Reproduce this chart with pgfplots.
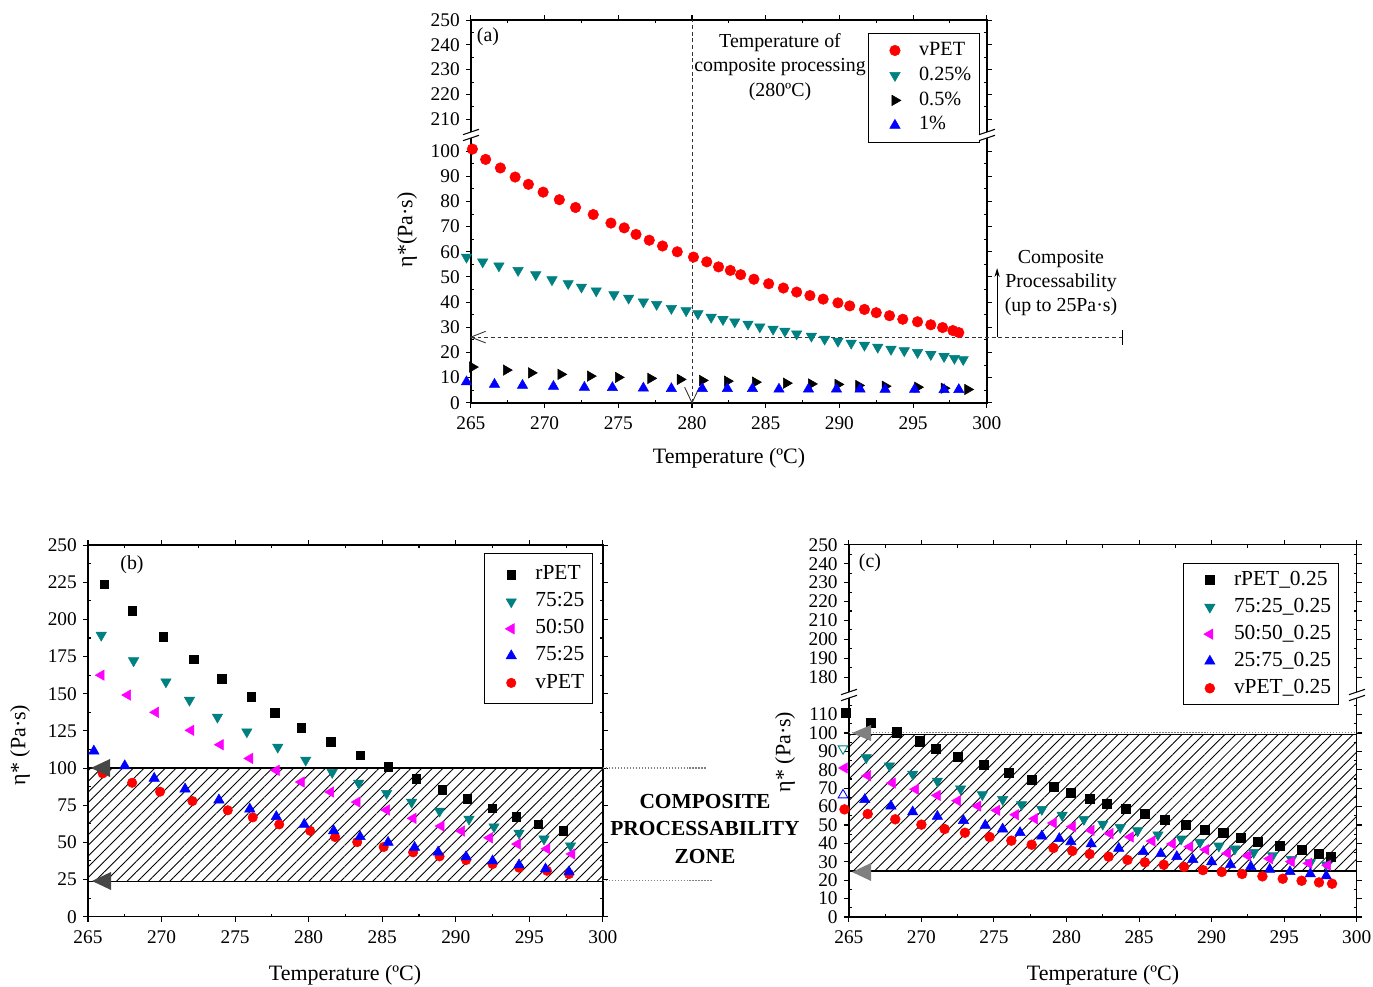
\documentclass[border=0pt]{standalone}
\usepackage{fontspec}
\setmainfont{Liberation Serif}
\usepackage{pgfplots}
\pgfplotsset{compat=1.18}
\usetikzlibrary{patterns.meta,arrows.meta}
\definecolor{cTeal}{RGB}{0,128,128}
\definecolor{cMag}{RGB}{255,0,255}
\definecolor{cBlue}{RGB}{0,0,255}
\definecolor{cRed}{RGB}{255,0,0}
\newcommand\fs{\fontsize{11}{13}\selectfont}
\newcommand\fg{\fontsize{12.2}{14}\selectfont}
\newcommand\fa{\fontsize{11.3}{13.9}\selectfont}
\newcommand\fl{\fontsize{12.5}{15}\selectfont}

\tikzset{
  hatch/.style={pattern={Lines[angle=45,distance=4.3pt,line width=0.5pt]}},
  dsh/.style={black!80, line width=0.55pt, dash pattern=on 2.2pt off 1.6pt},
}
\pgfplotsset{
  panel/.style={
    scale only axis, anchor=south west, clip=false,
    xmin=265, xmax=300, xtick={265,270,...,300},
    minor xtick={267.5,272.5,277.5,282.5,287.5,292.5,297.5},
    tick align=outside, major tick length=0.1cm, minor tick length=-0.06cm,
    axis line style={line width=0.8pt},
    major tick style={black, line width=0.6pt},
    minor tick style={black, line width=0.6pt},
    tick label style={font=\fs}, /pgf/number format/assume math mode=true,
    xticklabel style={yshift=-1.6pt},
    legend cell align=left,
    legend style={font=\fs, draw=black, line width=0.6pt, anchor=north west,
      inner xsep=3pt, inner ysep=2.5pt,
      nodes={inner sep=1.5pt, text height=7.5pt, text depth=2.2pt}},
  },
  biglegend/.style={legend style={font=\fg, nodes={inner sep=1.5pt, text height=8.3pt, text depth=2.5pt}}},
  limg/.style={legend image code/.code={%
    \path (0cm,-0.1cm) (0.84cm,0.1cm);
    \draw[mark repeat=2,mark phase=2,##1] plot coordinates {(0cm,0cm) (0.42cm,0cm) (0.84cm,0cm)};}},
  sRed/.style={only marks, mark=*, mark size=#1, color=cRed, mark options={line width=0.3pt}, limg},
  sTeal/.style={only marks, mark=triangle*, mark size=#1, color=cTeal, mark options={rotate=180, line width=0.3pt}, limg},
  sMag/.style={only marks, mark=triangle*, mark size=#1, color=cMag, mark options={rotate=90, line width=0.3pt}, limg},
  sBlue/.style={only marks, mark=triangle*, mark size=#1, color=cBlue, mark options={line width=0.3pt}, limg},
  sBlkR/.style={only marks, mark=triangle*, mark size=#1, color=black, mark options={rotate=-90, line width=0.3pt}, limg},
  sBlkSq/.style={only marks, mark=square*, mark size=#1, color=black, mark options={line width=0.3pt}, limg},
}

\newcommand\brk[2]{%
  \fill[white] (#1-8,#2+0.3) -- (#1+8,#2+5.7) -- (#1+8,#2-0.3) -- (#1-8,#2-5.7) -- cycle;
  \draw[line width=0.6pt] (#1-8,#2+0.3) -- (#1+8,#2+5.7);
  \draw[line width=0.6pt] (#1-8,#2-5.7) -- (#1+8,#2-0.3);}

\begin{document}
\begin{tikzpicture}[x=0.02cm,y=0.02cm]
\useasboundingbox (0,0) rectangle (1373,987);

% ---------------- (a)
\begin{axis}[panel, at={(9.42cm,11.686cm)}, width=10.32cm, height=7.654cm,
  ymin=0, ymax=152.02,
  ytick={0,10,20,30,40,50,60,70,80,90,100,112.7,122.53,132.36,142.19,152.02},
  yticklabels={0,10,20,30,40,50,60,70,80,90,100,210,220,230,240,250},
  minor ytick={5,15,25,35,45,55,65,75,85,95,117.6,127.4,137.3,147.1},
  legend style={at={(0.769,0.966)}, row sep=1.5pt, inner ysep=3.2pt,
    font=\fontsize{11.5}{13}\selectfont}]
\draw[dsh] (axis cs:280,0) -- (axis cs:280,152.02);
\draw[dsh] (axis cs:265,26.1) -- (axis cs:309.2,26.1);
\draw[black!80, line width=0.5pt] (axis cs:266.0,28.4) -- (axis cs:265,26.1) -- (axis cs:266.0,23.8);
\draw[black!80, line width=0.5pt] (axis cs:279.5,6.2) -- (axis cs:280,0) -- (axis cs:280.5,6.2);
\draw[black, line width=0.5pt] (axis cs:309.2,23.1) -- (axis cs:309.2,29.1);
\draw[black, line width=0.5pt, -{Stealth[length=5pt,width=3pt]}] (axis cs:300.7,26.1) -- (axis cs:300.7,53.5);

\addplot[sRed=3pt] coordinates {(265.1,100.8)(266.0,96.7)(267.0,93.3)(268.0,89.7)(268.9,86.8)(269.9,83.7)(271.0,80.7)(272.1,77.6)(273.3,74.8)(274.5,71.4)(275.4,69.5)(276.2,66.9)(277.1,64.6)(278.0,62.3)(279.0,60.0)(280.1,57.9)(281.0,56.0)(281.8,54.0)(282.6,52.6)(283.3,50.9)(284.2,49.1)(285.2,47.3)(286.2,45.6)(287.1,44.0)(288.0,42.6)(288.9,41.2)(289.9,39.7)(290.7,38.5)(291.7,37.1)(292.5,35.8)(293.4,34.6)(294.3,33.2)(295.3,32.2)(296.2,31.0)(297.0,29.9)(297.7,28.7)(298.1,27.9)};
\addlegendentry{vPET}
\addplot[sTeal=3.4pt] coordinates {(264.7,57.9)(265.8,56.0)(266.9,54.4)(268.2,52.6)(269.4,50.9)(270.5,48.9)(271.6,47.4)(272.5,46.0)(273.5,44.5)(274.7,43.0)(275.7,41.6)(276.7,40.1)(277.6,39.1)(278.6,37.5)(279.6,36.6)(280.4,35.4)(281.3,34.0)(282.1,33.1)(282.9,32.2)(283.8,31.3)(284.6,30.2)(285.5,29.3)(286.3,28.5)(287.1,27.4)(288.1,26.5)(289.0,25.3)(289.9,24.5)(290.8,23.7)(291.7,22.9)(292.6,22.1)(293.5,21.3)(294.4,20.7)(295.3,20.0)(296.2,19.2)(297.1,18.4)(297.8,17.7)(298.4,17.2)};
\addlegendentry{0.25\%}
\addplot[sBlkR=3.4pt] coordinates {(265.1,14.2)(267.4,13.0)(269.1,11.9)(271.1,11.3)(273.1,10.6)(275.0,10.1)(277.2,9.7)(279.2,9.3)(280.7,8.9)(282.4,8.6)(284.3,8.2)(286.4,7.8)(288.1,7.5)(289.9,7.3)(291.3,6.9)(293.1,6.6)(295.3,6.2)(297.1,5.8)(298.7,5.3)};
\addlegendentry{0.5\%}
\addplot[sBlue=3.4pt] coordinates {(264.7,8.3)(266.6,7.3)(268.5,6.9)(270.6,6.5)(272.7,6.1)(274.6,6.0)(276.7,5.8)(278.6,5.6)(280.7,5.6)(282.4,5.6)(284.1,5.6)(285.9,5.4)(287.9,5.4)(289.8,5.4)(291.4,5.4)(293.1,5.3)(295.1,5.3)(297.1,5.2)(298.1,5.2)};
\addlegendentry{1\%}
\end{axis}

% ---------------- (b)
\begin{axis}[panel, biglegend, at={(1.76cm,1.406cm)}, width=10.30cm, height=7.434cm,
  ymin=0, ymax=250, ytick={0,25,...,250},
  minor ytick={12.5,37.5,62.5,87.5,112.5,137.5,162.5,187.5,212.5,237.5},
  legend style={at={(0.769,0.978)}, row sep=1.6pt, inner ysep=5pt}]
\fill[hatch] (axis cs:265,23.8) rectangle (axis cs:300,100);
\draw[black, line width=0.7pt] (axis cs:265,100) -- (axis cs:300,100);
\draw[black, line width=0.7pt] (axis cs:265,23.8) -- (axis cs:300,23.8);
\draw[gray, densely dotted, line width=0.7pt] (axis cs:300,100) -- (axis cs:307.1,100);
\draw[gray, densely dotted, line width=0.7pt] (axis cs:300,24.3) -- (axis cs:307.4,24.3);

\addplot[sBlkSq=2.4pt] coordinates {(266.1,223.5)(268.0,205.8)(270.1,188.3)(272.2,173.3)(274.1,160.1)(276.1,148.0)(277.7,137.2)(279.5,127.1)(281.5,117.7)(283.5,108.5)(285.4,100.9)(287.3,92.8)(289.1,85.4)(290.8,79.2)(292.5,73.1)(294.1,67.2)(295.6,62.3)(297.3,57.8)};
\addlegendentry{rPET}
\addplot[sTeal=3.4pt] coordinates {(265.9,189.4)(268.1,172.2)(270.3,158.0)(271.9,145.7)(273.8,134.3)(275.8,124.4)(277.9,114.1)(279.8,105.4)(281.6,97.1)(283.4,89.9)(285.3,83.0)(287.0,77.1)(288.9,71.1)(290.9,65.7)(292.6,60.5)(294.3,56.3)(296.0,52.3)(297.8,47.7)};
\addlegendentry{75:25}
\addplot[sMag=3.4pt] coordinates {(265.9,162.5)(267.7,149.1)(269.6,137.5)(272.0,125.4)(274.0,115.7)(276.0,106.5)(277.8,98.5)(279.5,90.6)(281.5,83.9)(283.3,77.1)(285.3,71.8)(287.1,66.2)(289.0,61.0)(290.4,57.6)(292.3,53.1)(294.2,48.9)(296.2,45.7)(297.9,42.2)};
\addlegendentry{50:50}
\addplot[sRed=2.7pt, forget plot] coordinates {(266.0,96.4)(268.0,90.1)(269.9,84.1)(272.1,77.8)(274.5,71.6)(276.2,66.8)(278.0,62.1)(280.1,57.8)(281.8,53.6)(283.3,50.2)(285.1,46.9)(287.1,43.3)(288.9,40.6)(290.7,38.1)(292.5,35.4)(294.3,33.0)(296.2,30.9)(297.7,28.7)};
\addplot[sBlue=3.4pt] coordinates {(265.4,111.4)(267.5,101.5)(269.5,93.1)(271.6,85.9)(273.9,78.5)(276.0,72.4)(277.8,67.3)(279.7,62.1)(281.7,57.8)(283.5,53.8)(285.4,50.0)(287.2,46.6)(288.8,43.5)(290.7,40.3)(292.5,37.5)(294.3,34.8)(296.1,32.1)(297.7,30.1)};
\addlegendentry{75:25}
\addlegendimage{sRed=2.7pt}
\addlegendentry{vPET}
\end{axis}

% ---------------- (c)
\begin{axis}[panel, biglegend, at={(16.98cm,1.4cm)}, width=10.16cm, height=7.446cm,
  ymin=0, ymax=202.3,
  ytick={0,10,20,30,40,50,60,70,80,90,100,110,130.4,140.7,150.9,161.2,171.5,181.8,192.0,202.3},
  yticklabels={0,10,20,30,40,50,60,70,80,90,100,110,180,190,200,210,220,230,240,250},
  minor ytick={5,15,25,35,45,55,65,75,85,95,105,115,135.5,145.8,156.0,166.3,176.6,186.9,197.1},
  legend style={at={(0.657,0.951)}, row sep=1.6pt}]
\fill[hatch] (axis cs:265,25) rectangle (axis cs:300,99.3);
\draw[black, line width=0.7pt] (axis cs:265,99.3) -- (axis cs:300,99.3);
\draw[black, line width=0.7pt] (axis cs:265,25) -- (axis cs:300,25);
\draw[gray, densely dotted, line width=0.7pt] (axis cs:265,100.4) -- (axis cs:300,100.4);

\addplot[sBlkSq=2.6pt] coordinates {(264.8,111.2)(266.5,105.8)(268.3,100.4)(269.9,95.5)(271.0,91.5)(272.5,87.0)(274.3,82.8)(276.0,78.6)(277.6,74.5)(279.1,70.7)(280.3,67.6)(281.6,64.3)(282.8,61.4)(284.1,58.7)(285.4,56.0)(286.8,52.9)(288.2,50.2)(289.5,47.6)(290.8,45.7)(292.0,43.1)(293.2,40.9)(294.7,38.6)(296.2,36.4)(297.4,34.2)(298.2,32.6)};
\addlegendentry{rPET\_0.25}
\addplot[sTeal=3.4pt] coordinates {(266.2,86.6)(267.8,82.2)(269.4,77.7)(271.1,73.9)(272.7,69.7)(274.2,66.5)(275.6,63.9)(276.9,61.1)(278.3,58.5)(279.7,55.4)(281.2,53.1)(282.5,50.5)(283.7,48.7)(284.9,46.9)(286.3,44.7)(287.9,42.4)(289.2,40.6)(290.5,38.6)(291.6,37.0)(292.9,35.1)(294.2,33.3)(295.5,31.3)(296.8,29.5)(297.9,28.4)};
\addlegendentry{75:25\_0.25}
\addplot[sMag=3.4pt] coordinates {(264.7,81.0)(266.3,76.8)(268.0,72.8)(269.6,69.4)(271.1,66.1)(272.5,63.2)(273.9,60.3)(275.2,58.0)(276.5,55.6)(277.8,53.4)(279.1,51.1)(280.4,49.1)(281.7,47.1)(283.0,45.3)(284.4,43.5)(285.9,41.3)(287.3,39.7)(288.5,38.2)(289.6,36.6)(291.1,34.6)(292.5,33.3)(294.0,31.7)(295.5,30.1)(296.7,29.2)(298.0,28.1)};
\addlegendentry{50:50\_0.25}
\addplot[sBlue=3.4pt] coordinates {(266.1,63.8)(267.9,60.3)(269.4,57.1)(271.1,54.7)(272.9,52.4)(274.4,49.8)(275.6,47.8)(276.8,45.8)(278.3,44.0)(279.5,42.6)(280.3,40.9)(281.7,39.7)(283.6,37.3)(285.3,35.5)(286.5,34.4)(287.6,32.8)(288.7,31.2)(290.0,29.9)(291.3,28.4)(292.7,27.4)(294.0,25.9)(295.4,24.6)(296.8,23.4)(297.9,22.3)};
\addlegendentry{25:75\_0.25}
\addplot[sRed=2.8pt] coordinates {(264.7,58.5)(266.3,56.0)(268.2,53.1)(270.0,50.2)(271.6,47.8)(273.0,45.8)(274.7,43.5)(276.2,41.5)(277.6,39.3)(279.1,37.5)(280.4,35.9)(281.6,34.2)(282.9,32.8)(284.2,31.0)(285.4,29.7)(286.7,28.4)(288.1,27.2)(289.4,25.5)(290.7,24.5)(292.1,23.4)(293.5,22.1)(294.9,20.8)(296.2,19.7)(297.4,18.8)(298.3,18.1)};
\addlegendentry{vPET\_0.25}
\addplot[only marks, mark=triangle, mark size=3.2pt, color=cTeal, mark options={rotate=180, line width=0.5pt}, forget plot] coordinates {(264.6,91.5)};
\addplot[only marks, mark=triangle, mark size=3.2pt, color=cBlue, mark options={line width=0.5pt}, forget plot] coordinates {(264.6,66.3)};
\end{axis}

% ---------------- breaks, arrows and texts
\brk{471}{852}
\brk{987}{852}
\brk{849}{292}
\brk{1357}{292}

\fill[black!72] (91,987-768) -- (110,987-759) -- (110,987-777) -- cycle;
\fill[black!72] (92,987-881) -- (111,987-872) -- (111,987-890) -- cycle;
\fill[black!50] (852,987-733) -- (871,987-725) -- (871,987-741) -- cycle;
\fill[black!50] (852,987-872) -- (871,987-863) -- (871,987-881) -- cycle;

\node[font=\fa] at (488,987-37) {(a)};
\node[font=\fa] at (132,987-565) {(b)};
\node[font=\fa] at (870,987-563) {(c)};

\node[font=\fa, align=center] at (780,987-67) {Temperature of\\composite processing\\(280ºC)};
\node[font=\fa, align=center] at (1061,987-283) {Composite\\Processability\\(up to 25Pa·s)};
\node[font=\fontsize{12.2}{15.6}\selectfont\bfseries, align=center] at (705,987-829) {COMPOSITE\\PROCESSABILITY\\ZONE};

\node[font=\fl] at (729,987-458) {Temperature (ºC)};
\node[font=\fl] at (345,987-975) {Temperature (ºC)};
\node[font=\fl] at (1103,987-975) {Temperature (ºC)};
\node[font=\fl, rotate=90] at (407,987-230) {η*(Pa·s)};
\node[font=\fl, rotate=90] at (20,987-745) {η* (Pa·s)};
\node[font=\fl, rotate=90] at (785,987-752) {η* (Pa·s)};
\end{tikzpicture}
\end{document}
